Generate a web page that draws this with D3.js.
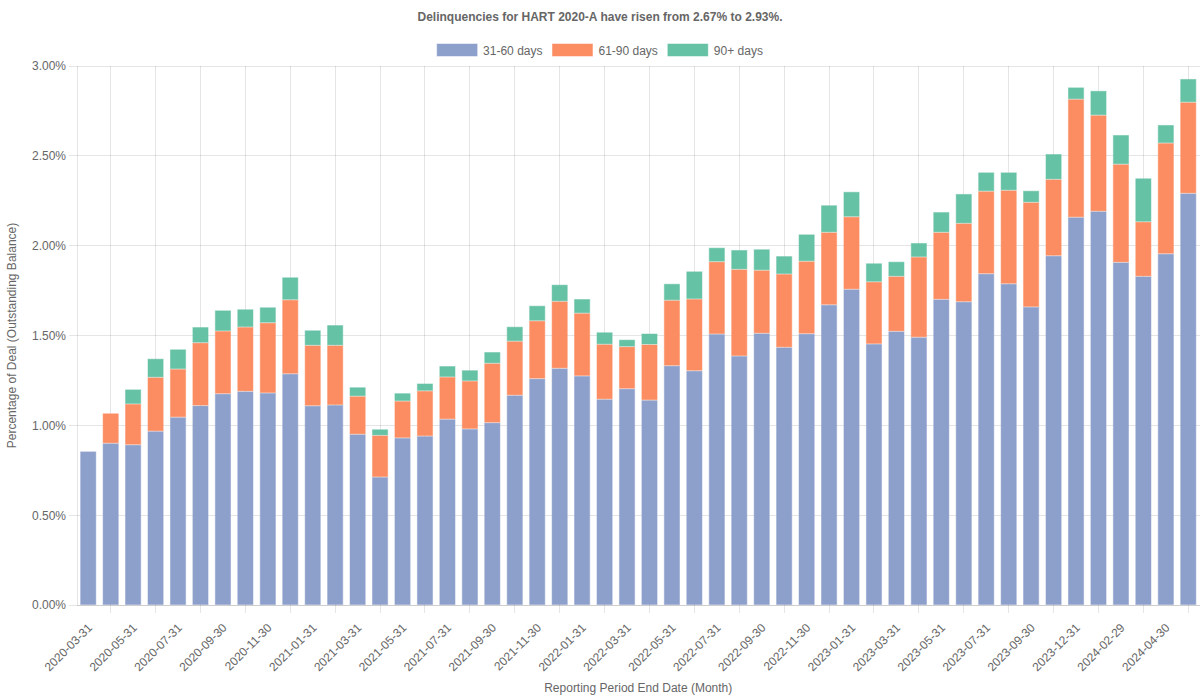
<!DOCTYPE html>
<html>
<head>
<meta charset="utf-8">
<script src="https://cdn.jsdelivr.net/npm/d3@7"></script>
<style>
  html, body { margin: 0; padding: 0; background: #fff; }
  svg { display: block; font-family: "Liberation Sans", Arial, Helvetica, sans-serif; }
</style>
</head>
<body>
<svg id="chart" width="1200" height="700"></svg>
<script>
// ---- Data ----
const dates = [
  "2020-03-31","2020-04-30","2020-05-31","2020-06-30","2020-07-31","2020-08-31","2020-09-30","2020-10-31","2020-11-30","2020-12-31",
  "2021-01-31","2021-02-28","2021-03-31","2021-04-30","2021-05-31","2021-06-30","2021-07-31","2021-08-31","2021-09-30","2021-10-31",
  "2021-11-30","2021-12-31","2022-01-31","2022-02-28","2022-03-31","2022-04-30","2022-05-31","2022-06-30","2022-07-31","2022-08-31",
  "2022-09-30","2022-10-31","2022-11-30","2022-12-31","2023-01-31","2023-02-28","2023-03-31","2023-04-30","2023-05-31","2023-06-30",
  "2023-07-31","2023-08-31","2023-09-30","2023-10-31","2023-12-31","2024-01-31","2024-02-29","2024-03-31","2024-04-30","2024-05-31"
];
const d31_60 = [
  0.855,0.900,0.892,0.967,1.045,1.110,1.176,1.189,1.180,1.287,
  1.109,1.113,0.950,0.712,0.930,0.940,1.034,0.980,1.015,1.167,
  1.260,1.317,1.275,1.145,1.204,1.140,1.332,1.304,1.508,1.386,
  1.512,1.434,1.510,1.671,1.757,1.453,1.523,1.490,1.701,1.688,
  1.844,1.788,1.659,1.944,2.158,2.191,1.907,1.829,1.955,2.291
];
const d61_90 = [
  0.005,0.167,0.227,0.300,0.268,0.350,0.349,0.358,0.391,0.412,
  0.336,0.332,0.212,0.232,0.205,0.252,0.235,0.267,0.330,0.301,
  0.322,0.373,0.349,0.306,0.234,0.310,0.364,0.399,0.403,0.482,
  0.351,0.408,0.403,0.403,0.404,0.346,0.306,0.447,0.373,0.436,
  0.459,0.520,0.582,0.425,0.657,0.535,0.546,0.304,0.616,0.507
];
const d90plus = [
  0.000,0.004,0.081,0.104,0.110,0.087,0.115,0.099,0.086,0.125,
  0.084,0.113,0.050,0.034,0.044,0.041,0.061,0.060,0.063,0.081,
  0.084,0.093,0.079,0.067,0.039,0.061,0.092,0.154,0.078,0.108,
  0.117,0.100,0.150,0.151,0.139,0.103,0.082,0.078,0.113,0.164,
  0.105,0.100,0.065,0.141,0.066,0.136,0.163,0.242,0.101,0.130
];
const seriesNames = ["31-60 days", "61-90 days", "90+ days"];
const seriesColors = ["#8da0cb", "#fc8d62", "#66c2a5"];
const yTicks = [0, 0.5, 1.0, 1.5, 2.0, 2.5, 3.0];
const titleText = "Delinquencies for HART 2020-A have risen from 2.67% to 2.93%.";
const xTitle = "Reporting Period End Date (Month)";
const yTitle = "Percentage of Deal (Outstanding Balance)";

// ---- Layout ----
const svg = d3.select("#chart");
const W = 1200, H = 700;
const plot = { left: 77, right: 1199.5, top: 66, bottom: 605 };
const textColor = "#666";
const gridColor = "rgba(0,0,0,0.1)";

const rows = dates.map((d, i) => ({ date: d, s0: d31_60[i], s1: d61_90[i], s2: d90plus[i] }));
const stack = d3.stack().keys(["s0", "s1", "s2"]);
const stacked = stack(rows);

const x = d3.scaleBand().domain(dates).range([plot.left, plot.right]).paddingInner(0.28).paddingOuter(0.14);
const y = d3.scaleLinear().domain([0, 3]).range([plot.bottom, plot.top]);
const cx = d => x(d) + x.bandwidth() / 2;

// Title
svg.append("text")
  .attr("x", W / 2).attr("y", 21)
  .attr("text-anchor", "middle")
  .attr("font-size", 12).attr("font-weight", "bold")
  .attr("fill", textColor)
  .text(titleText);

// Legend
const legend = svg.append("g");
const items = seriesNames.map((name, i) => {
  const g = legend.append("g");
  g.append("rect").attr("width", 40).attr("height", 12)
    .attr("fill", seriesColors[i]).attr("stroke", seriesColors[i]).attr("stroke-opacity", 0.5);
  const t = g.append("text").attr("x", 46).attr("y", 10.5)
    .attr("font-size", 12).attr("fill", textColor).text(name);
  return { g, w: 46 + t.node().getComputedTextLength() };
});
const totalW = d3.sum(items, d => d.w) + 10 * (items.length - 1);
let lx = W / 2 - totalW / 2;
items.forEach(it => { it.g.attr("transform", `translate(${lx},44)`); lx += it.w + 10; });

// Y grid and axis
svg.append("g").selectAll("line").data(yTicks).join("line")
  .attr("x1", plot.left - 8).attr("x2", plot.right)
  .attr("y1", d => y(d)).attr("y2", d => y(d))
  .attr("stroke", gridColor).attr("shape-rendering", "crispEdges");

const yAxis = svg.append("g")
  .attr("transform", `translate(${plot.left},0)`)
  .call(d3.axisLeft(y).tickValues(yTicks).tickSize(0).tickPadding(11).tickFormat(d => d.toFixed(2) + "%"));
yAxis.select(".domain").remove();
yAxis.selectAll("text").attr("font-size", 12).attr("fill", textColor)
  .attr("font-family", "Liberation Sans, Arial, sans-serif");

// X grid at every other category (between labelled ticks)
const gridCats = dates.filter((d, i) => i % 2 === 1);
svg.append("g").selectAll("line").data(gridCats).join("line")
  .attr("x1", d => cx(d)).attr("x2", d => cx(d))
  .attr("y1", plot.top).attr("y2", plot.bottom + 8)
  .attr("stroke", gridColor).attr("shape-rendering", "crispEdges");

// Axis borders
svg.append("line").attr("x1", plot.left).attr("x2", plot.left)
  .attr("y1", plot.top).attr("y2", plot.bottom)
  .attr("stroke", gridColor).attr("shape-rendering", "crispEdges");
svg.append("line").attr("x1", plot.left).attr("x2", plot.right)
  .attr("y1", plot.bottom).attr("y2", plot.bottom)
  .attr("stroke", gridColor).attr("shape-rendering", "crispEdges");

// Bars
svg.append("g").selectAll("g").data(stacked).join("g")
  .attr("fill", (d, i) => seriesColors[i])
  .attr("stroke", (d, i) => seriesColors[i])
  .selectAll("rect").data(d => d).join("rect")
  .attr("x", d => x(d.data.date) + 0.5)
  .attr("width", x.bandwidth() - 1)
  .attr("y", d => y(d[1]) + 0.5)
  .attr("height", d => Math.max(0, y(d[0]) - y(d[1]) - 1))
  .attr("stroke-width", 1)
  .attr("stroke-opacity", 0.5);

// X tick labels (every other category)
const labelCats = dates.filter((d, i) => i % 2 === 0);
const xAxis = svg.append("g")
  .attr("transform", `translate(0,${plot.bottom})`)
  .call(d3.axisBottom(x).tickValues(labelCats).tickSize(0).tickPadding(0));
xAxis.select(".domain").remove();
xAxis.selectAll(".tick text")
  .attr("font-size", 12).attr("fill", textColor)
  .attr("font-family", "Liberation Sans, Arial, sans-serif")
  .attr("text-anchor", "end")
  .attr("dy", "0.35em")
  .attr("transform", "translate(1.7,20.5) rotate(-45)");

// Axis titles
svg.append("text")
  .attr("x", (plot.left + plot.right) / 2).attr("y", 692)
  .attr("text-anchor", "middle").attr("font-size", 12).attr("fill", textColor)
  .text(xTitle);
svg.append("text")
  .attr("transform", `translate(16,${(plot.top + plot.bottom) / 2}) rotate(-90)`)
  .attr("text-anchor", "middle").attr("font-size", 12).attr("fill", textColor)
  .text(yTitle);
</script>
</body>
</html>
